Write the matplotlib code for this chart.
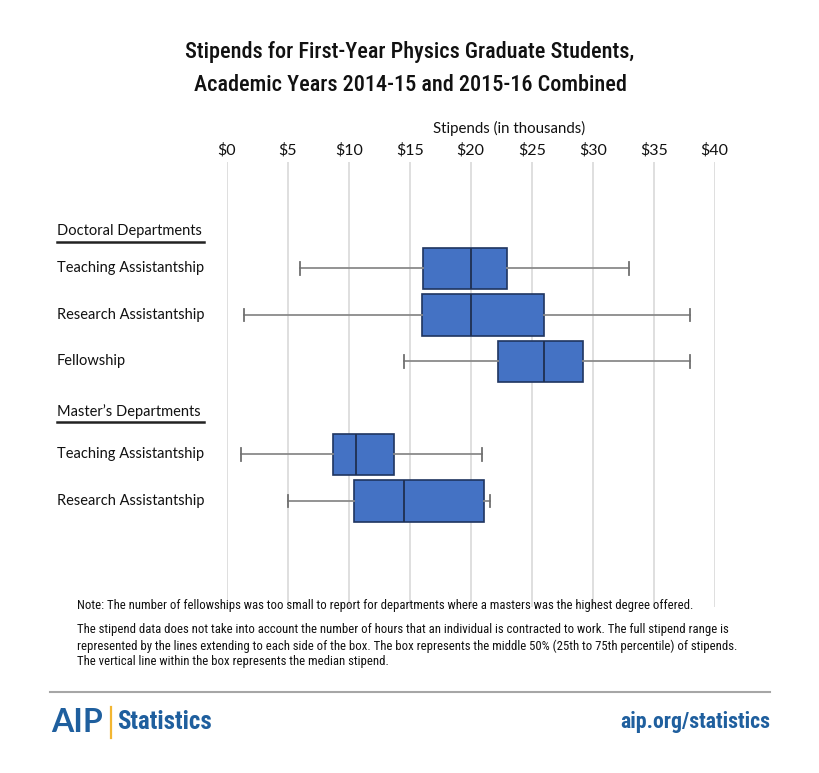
import matplotlib
matplotlib.use("Agg")
import matplotlib.pyplot as plt
from matplotlib import font_manager
from matplotlib.transforms import blended_transform_factory

# pick fonts that exist
names = set(f.name for f in font_manager.fontManager.ttflist)
def pick(*opts):
    for o in opts:
        if o in names:
            return o
    return "DejaVu Sans"

narrow = pick("Liberation Sans Narrow", "Roboto Condensed", "Open Sans Condensed", "Roboto")
body = pick("Lato", "Open Sans", "Noto Sans")

# data (thousands of dollars)
groups = ["Doctoral Departments", "Master\u2019s Departments"]
labels = ["Teaching Assistantship", "Research Assistantship", "Fellowship",
          "Teaching Assistantship", "Research Assistantship"]
low = [6, 1.4, 14.5, 1.2, 5]
q1 = [16.1, 16, 22.2, 8.7, 10.4]
median = [20, 20, 26, 10.6, 14.5]
q3 = [23, 26, 29.2, 13.7, 21.1]
high = [33, 38, 38, 20.9, 21.6]
ticks = [0, 5, 10, 15, 20, 25, 30, 35, 40]

rows = [0, 1, 2, 4, 5]          # vertical slot of each box
group_rows = [-0.8, 3.07]       # slot of each group header

fig = plt.figure(figsize=(8.2, 7.73), dpi=100)
ax = fig.add_axes([226.7 / 820, 1 - 607 / 773, 488 / 820, 445 / 773])

stats = []
for i in range(len(labels)):
    stats.append(dict(whislo=low[i], q1=q1[i], med=median[i], q3=q3[i], whishi=high[i]))

ax.bxp(stats, positions=rows, orientation="horizontal", widths=0.9, capwidths=0.26,
       showfliers=False, patch_artist=True,
       boxprops=dict(facecolor="#4472C4", edgecolor="#1F3560", linewidth=1.2),
       medianprops=dict(color="#1F2F50", linewidth=1.3),
       whiskerprops=dict(color="#8a8a8a", linewidth=1.3),
       capprops=dict(color="#707070", linewidth=1.3))

ax.set_xlim(0, 40)
ax.set_ylim(7.28, -2.29)
ax.set_xticks(ticks)
ax.set_xticklabels(["$%d" % t for t in ticks], fontsize=11.5, family=body, color="#111111")
ax.xaxis.tick_top()
ax.tick_params(axis="x", length=0, pad=3)
ax.set_yticks([])
ax.grid(axis="x", color="#d9d9d9", linewidth=1.2)
ax.set_axisbelow(True)
for s in ax.spines.values():
    s.set_visible(False)

# axis label
fig.text(509 / 820, 1 - 128 / 773, "Stipends (in thousands)", ha="center", va="center",
         fontsize=10.8, family=body, color="#111111")

# row labels
tr = blended_transform_factory(fig.transFigure, ax.transData)
for lab, r in zip(labels, rows):
    ax.text(57 / 820, r, lab, transform=tr, ha="left", va="center", fontsize=10.5,
            family=body, color="#111111", clip_on=False)
for g, r in zip(groups, group_rows):
    ax.text(57 / 820, r, g, transform=tr, ha="left", va="center", fontsize=10.5,
            family=body, color="#111111", clip_on=False)
    ax.plot([57 / 820, 204 / 820], [r + 0.23, r + 0.23], transform=tr, color="#222222",
            linewidth=1.8, clip_on=False)

# title
fig.text(0.5, 1 - 52 / 773, "Stipends for First-Year Physics Graduate Students,",
         ha="center", va="center", fontsize=16, family=narrow, weight="medium", color="#111111")
fig.text(0.5, 1 - 85 / 773, "Academic Years 2014-15 and 2015-16 Combined",
         ha="center", va="center", fontsize=16, family=narrow, weight="medium", color="#111111")

# notes
notes = [
    (606, "Note: The number of fellowships was too small to report for departments where a masters was the highest degree offered."),
    (630, "The stipend data does not take into account the number of hours that an individual is contracted to work. The full stipend range is"),
    (646, "represented by the lines extending to each side of the box. The box represents the middle 50% (25th to 75th percentile) of stipends."),
    (662, "The vertical line within the box represents the median stipend."),
]
for y, txt in notes:
    fig.text(77 / 820, 1 - y / 773, txt, ha="left", va="center", fontsize=9.2,
             family=narrow, color="#111111")

# footer
fig.add_artist(plt.Line2D([50 / 820, 770 / 820], [1 - 692 / 773, 1 - 692 / 773],
                          color="#a6a6a6", linewidth=1.5))
fig.text(51 / 820, 1 - 722 / 773, "AIP", ha="left", va="center", fontsize=23,
         family=body, weight="bold", color="#1f5f9e")
fig.add_artist(plt.Line2D([111 / 820, 111 / 820], [1 - 707 / 773, 1 - 738 / 773],
                          color="#f2b632", linewidth=1.6))
fig.text(117 / 820, 1 - 722 / 773, "Statistics", ha="left", va="center", fontsize=18,
         family=narrow, weight="bold", color="#1f5f9e")
fig.text(770 / 820, 1 - 722 / 773, "aip.org/statistics", ha="right", va="center",
         fontsize=15.7, family=narrow, weight="bold", color="#1f5f9e")

fig.savefig("out.png", dpi=100, facecolor="white")
